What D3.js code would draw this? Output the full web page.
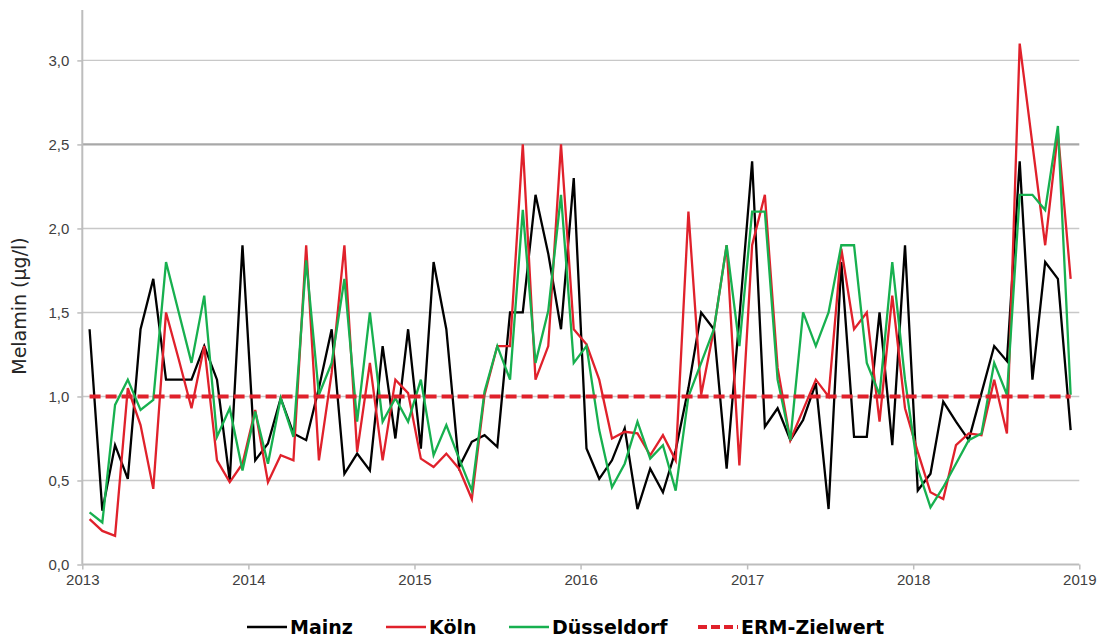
<!DOCTYPE html>
<html>
<head>
<meta charset="utf-8">
<script src="https://cdn.jsdelivr.net/npm/d3@7"></script>
<style>
  body { margin: 0; background: #fff; }
  svg { display: block; }
</style>
</head>
<body>
<script>
// sampling dates (every 4 weeks)
const dates = [
  "2013-01-17","2013-02-14","2013-03-14","2013-04-11","2013-05-09","2013-06-06","2013-07-04","2013-08-01","2013-08-29","2013-09-26","2013-10-24","2013-11-21","2013-12-19",
  "2014-01-16","2014-02-13","2014-03-13","2014-04-10","2014-05-08","2014-06-05","2014-07-03","2014-07-31","2014-08-28","2014-09-25","2014-10-23","2014-11-20","2014-12-18",
  "2015-01-15","2015-02-12","2015-03-12","2015-04-09","2015-05-07","2015-06-04","2015-07-02","2015-07-30","2015-08-27","2015-09-24","2015-10-22","2015-11-19","2015-12-17",
  "2016-01-14","2016-02-11","2016-03-10","2016-04-07","2016-05-05","2016-06-02","2016-06-30","2016-07-28","2016-08-25","2016-09-22","2016-10-20","2016-11-17","2016-12-15",
  "2017-01-12","2017-02-09","2017-03-09","2017-04-06","2017-05-04","2017-06-01","2017-06-29","2017-07-27","2017-08-24","2017-09-21","2017-10-19","2017-11-16","2017-12-14",
  "2018-01-11","2018-02-08","2018-03-08","2018-04-05","2018-05-03","2018-05-31","2018-06-28","2018-07-26","2018-08-23","2018-09-20","2018-10-18","2018-11-15","2018-12-13"
];

const mainz = [
  1.40,0.32,0.71,0.51,1.40,1.70,1.10,1.10,1.10,1.30,1.10,0.50,1.90,
  0.62,0.72,0.99,0.78,0.74,1.05,1.40,0.54,0.66,0.56,1.30,0.75,1.40,
  0.69,1.80,1.40,0.58,0.73,0.77,0.70,1.50,1.50,2.20,1.85,1.40,2.30,
  0.69,0.51,0.62,0.81,0.33,0.57,0.43,0.68,1.05,1.50,1.40,0.57,1.47,
  2.40,0.82,0.93,0.74,0.86,1.08,0.33,1.80,0.76,0.76,1.50,0.71,1.90,
  0.44,0.54,0.97,0.85,0.74,1.02,1.30,1.21,2.40,1.10,1.80,1.70,0.80
];

const koeln = [
  0.27,0.20,0.17,1.05,0.83,0.45,1.50,1.22,0.93,1.30,0.62,0.49,0.60,
  0.92,0.49,0.65,0.62,1.90,0.62,1.14,1.90,0.67,1.20,0.62,1.10,1.02,
  0.63,0.58,0.66,0.57,0.39,1.01,1.30,1.30,2.50,1.10,1.30,2.50,1.40,
  1.31,1.10,0.75,0.79,0.78,0.65,0.77,0.62,2.10,1.01,1.40,1.90,0.59,
  1.90,2.20,1.17,0.74,0.92,1.10,1.00,1.88,1.40,1.50,0.85,1.60,0.93,
  0.67,0.43,0.39,0.71,0.78,0.77,1.10,0.78,3.10,2.50,1.90,2.57,1.70
];

const duesseldorf = [
  0.31,0.25,0.95,1.10,0.92,0.98,1.80,1.50,1.20,1.60,0.76,0.93,0.56,
  0.91,0.60,0.99,0.76,1.81,1.01,1.20,1.70,0.85,1.50,0.85,0.99,0.85,
  1.10,0.65,0.83,0.63,0.44,1.03,1.30,1.10,2.11,1.20,1.51,2.20,1.20,
  1.30,0.80,0.46,0.60,0.85,0.63,0.71,0.44,1.00,1.20,1.40,1.90,1.30,
  2.10,2.10,1.10,0.74,1.50,1.30,1.50,1.90,1.90,1.20,1.01,1.80,1.10,
  0.57,0.34,0.46,0.60,0.74,0.78,1.20,1.01,2.20,2.20,2.11,2.61,1.01
];

const ermZielwert = 1.0;

const yTicks = [0, 0.5, 1.0, 1.5, 2.0, 2.5, 3.0];
const xYears = [2013, 2014, 2015, 2016, 2017, 2018, 2019];

const seriesNames = ["Mainz", "Köln", "Düsseldorf", "ERM-Zielwert"];
const seriesColors = ["#000000", "#e0212b", "#17b04f", "#e0212b"];

var width = 1103, height = 637;
var parse = d3.timeParse("%Y-%m-%d");
var x = d3.scaleTime()
    .domain([new Date(2013, 0, 1), new Date(2019, 0, 1)])
    .range([82.3, 1079.3]);
var y = d3.scaleLinear()
    .domain([0, 3.3])
    .range([564.5, 10]);
var fmt = d3.format(".1f");

var svg = d3.select("body").append("svg")
    .attr("width", width)
    .attr("height", height)
    .attr("font-family", "DejaVu Sans, Verdana, sans-serif");

// grid
svg.append("g")
  .selectAll("line")
  .data(yTicks.filter(d => d > 0))
  .join("line")
    .attr("x1", x.range()[0])
    .attr("x2", x.range()[1])
    .attr("y1", d => y(d))
    .attr("y2", d => y(d))
    .attr("stroke", d => d === 2.5 ? "#a8a8a8" : "#c8c8c8")
    .attr("stroke-width", d => d === 2.5 ? 2.2 : 1.4);

// y axis
var yAxis = svg.append("g")
    .attr("transform", `translate(${x.range()[0]},0)`)
    .call(d3.axisLeft(y).tickValues(yTicks).tickSize(5).tickPadding(8)
      .tickFormat(d => fmt(d).replace(".", ",")));
yAxis.select(".domain").attr("stroke", "#bdbdbd").attr("stroke-width", 2).attr("d", `M0,${y.range()[1]}V${y.range()[0]}`);
yAxis.selectAll(".tick line").attr("stroke", "#bdbdbd").attr("stroke-width", 1.5);
yAxis.selectAll(".tick text").attr("font-size", 15).attr("fill", "#404040");

// x axis
var xAxis = svg.append("g")
    .attr("transform", `translate(0,${y.range()[0]})`)
    .call(d3.axisBottom(x).tickValues(xYears.map(yr => new Date(yr, 0, 1)))
      .tickSize(5).tickPadding(5).tickFormat(d3.timeFormat("%Y")));
xAxis.select(".domain").attr("stroke", "#bdbdbd").attr("stroke-width", 2).attr("d", `M${x.range()[0]},0H${x.range()[1]}`);
xAxis.selectAll(".tick line").attr("stroke", "#bdbdbd").attr("stroke-width", 1.5);
xAxis.selectAll(".tick text").attr("font-size", 15).attr("fill", "#404040");

// y title
svg.append("text")
    .attr("transform", "translate(26,306) rotate(-90)")
    .attr("text-anchor", "middle")
    .attr("font-size", 19)
    .attr("fill", "#262626")
    .text("Melamin (µg/l)");

// series
var line = d3.line()
    .x((d, i) => x(parse(dates[i])))
    .y(d => y(d));

var series = [mainz, koeln, duesseldorf];
svg.append("g")
    .attr("fill", "none")
  .selectAll("path")
  .data(series)
  .join("path")
    .attr("stroke", (d, i) => seriesColors[i])
    .attr("stroke-width", 2.3)
    .attr("stroke-linejoin", "miter")
    .attr("d", d => line(d));

svg.append("line")
    .attr("x1", x(parse(dates[0])))
    .attr("x2", x(parse(dates[dates.length - 1])))
    .attr("y1", y(ermZielwert))
    .attr("y2", y(ermZielwert))
    .attr("stroke", seriesColors[3])
    .attr("stroke-width", 4)
    .attr("stroke-dasharray", "11,5");

// legend
var legendX = [247, 386, 509, 698];
var legend = svg.append("g")
    .attr("transform", "translate(0,627)")
  .selectAll("g")
  .data(seriesNames)
  .join("g")
    .attr("transform", (d, i) => `translate(${legendX[i]},0)`);
legend.append("line")
    .attr("x1", 0).attr("x2", 40)
    .attr("stroke", (d, i) => seriesColors[i])
    .attr("stroke-width", (d, i) => i === 3 ? 4 : 2.5)
    .attr("stroke-dasharray", (d, i) => i === 3 ? "9,4" : null);
legend.append("text")
    .attr("x", 43)
    .attr("dy", "0.36em")
    .attr("font-size", 19)
    .attr("font-weight", "bold")
    .attr("fill", "#000")
    .text(d => d);
</script>
</body>
</html>
